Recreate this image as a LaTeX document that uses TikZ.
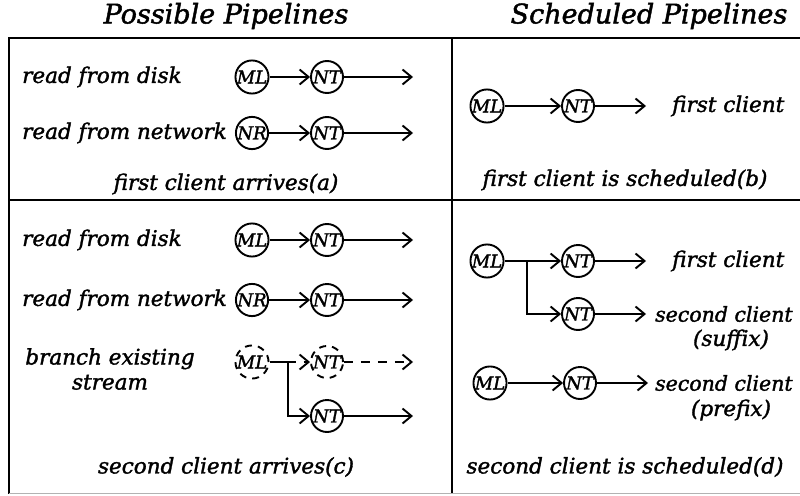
\documentclass[tikz,border=0pt]{standalone}
\usepackage{fontspec}
\setmainfont{DejaVu Serif}[ItalicFeatures={FakeBold=1.6}]
\usetikzlibrary{arrows.meta}
\tikzset{
  lbl/.style={font=\itshape\fontsize{21.5}{25}\selectfont, inner sep=0pt},
  narrow/.style={font=\itshape\fontsize{20.5}{25}\selectfont, inner sep=0pt},
  head/.style={font=\itshape\fontsize{27}{29}\selectfont, inner sep=0pt},
  stage/.style={circle, draw, line width=1.9pt, minimum size=32pt, inner sep=0pt,
                font=\itshape\fontsize{18}{18}\selectfont},
  ghost/.style={stage, dash pattern=on 7pt off 6pt},
  flow/.style={line width=1.9pt, -{Straight Barb[length=9pt,width=15pt,line width=1.9pt]}},
  ghostflow/.style={flow, dash pattern=on 9pt off 8pt},
  frame/.style={line width=2.2pt}
}
\begin{document}
\begin{tikzpicture}[x=1pt,y=-1pt]
  \useasboundingbox (0,0) rectangle (800,495);

  % panel frame
  \draw[frame] (801,38) -- (9,38) -- (9,494);
  \draw[frame] (9,200) -- (801,200);
  \draw[frame] (452,38) -- (452,494);
  \draw[line width=1.2pt, gray!60] (9,493.5) -- (801,493.5);

  % column headings
  \node[head] (hpos) at (226,16) {Possible Pipelines};
  \node[head] (hsch) at (649,16) {Scheduled Pipelines};

  % ---------- (a) first client arrives ----------
  \node[lbl, anchor=west] (a1t) at (22,77) {read from disk};
  \node[stage] (a1m) at (252,77) {ML};
  \node[stage] (a1n) at (327,77) {NT};
  \coordinate (a1o) at (413,77);
  \draw[flow] (a1m) -- (a1n);
  \draw[flow] (a1n) -- (a1o);

  \node[lbl, anchor=west] (a2t) at (22,133) {read from network};
  \node[stage] (a2r) at (252,133) {NR};
  \node[stage] (a2n) at (327,133) {NT};
  \coordinate (a2o) at (413,133);
  \draw[flow] (a2r) -- (a2n);
  \draw[flow] (a2n) -- (a2o);

  \node[lbl] (acap) at (226,184) {first client arrives(a)};

  % ---------- (b) first client is scheduled ----------
  \node[stage] (b1m) at (487,106) {ML};
  \node[stage] (b1n) at (578,106) {NT};
  \coordinate (b1o) at (646,106);
  \draw[flow] (b1m) -- (b1n);
  \draw[flow] (b1n) -- (b1o);
  \node[lbl, anchor=west] (b1t) at (672,106) {first client};

  \node[lbl] (bcap) at (625,180) {first client is scheduled(b)};

  % ---------- (c) second client arrives ----------
  \node[lbl, anchor=west] (c1t) at (22,240) {read from disk};
  \node[stage] (c1m) at (252,240) {ML};
  \node[stage] (c1n) at (327,240) {NT};
  \coordinate (c1o) at (413,240);
  \draw[flow] (c1m) -- (c1n);
  \draw[flow] (c1n) -- (c1o);

  \node[lbl, anchor=west] (c2t) at (22,300) {read from network};
  \node[stage] (c2r) at (252,300) {NR};
  \node[stage] (c2n) at (327,300) {NT};
  \coordinate (c2o) at (413,300);
  \draw[flow] (c2r) -- (c2n);
  \draw[flow] (c2n) -- (c2o);

  \node[lbl, align=center] (c3t) at (110,369) {branch existing\\stream};
  \node[ghost] (c3m) at (252,362) {ML};
  \node[ghost] (c3n) at (327,362) {NT};
  \coordinate (c3o) at (413,362);
  \draw[ghostflow] (c3m) -- (c3n);
  \draw[ghostflow] (c3n) -- (c3o);

  \node[stage] (c4n) at (327,416) {NT};
  \coordinate (c4o) at (413,416);
  \coordinate (c4k) at (288,362);
  \draw[flow] (c3m.east) -- (c4k) |- (c4n);
  \draw[flow] (c4n) -- (c4o);

  \node[lbl] (ccap) at (226,467) {second client arrives(c)};

  % ---------- (d) second client is scheduled ----------
  \node[stage] (d1m) at (487,261) {ML};
  \node[stage] (d1n) at (578,261) {NT};
  \coordinate (d1o) at (646,261);
  \draw[flow] (d1m) -- (d1n);
  \draw[flow] (d1n) -- (d1o);
  \node[lbl, anchor=west] (d1t) at (672,261) {first client};

  \node[stage] (d2n) at (578,314) {NT};
  \coordinate (d2o) at (646,314);
  \coordinate (d2k) at (527,261);
  \draw[flow] (d2k) |- (d2n);
  \draw[flow] (d2n) -- (d2o);
  \node[narrow, anchor=west] (d2t) at (655,314) {second client};
  \node[lbl] (d2s) at (731,340) {(suffix)};

  \node[stage] (d3m) at (490,383) {ML};
  \node[stage] (d3n) at (580,383) {NT};
  \coordinate (d3o) at (648,383);
  \draw[flow] (d3m) -- (d3n);
  \draw[flow] (d3n) -- (d3o);
  \node[narrow, anchor=west] (d3t) at (655,383) {second client};
  \node[lbl] (d3s) at (731,410) {(prefix)};

  \node[lbl] (dcap) at (625,467) {second client is scheduled(d)};
\end{tikzpicture}
\end{document}
